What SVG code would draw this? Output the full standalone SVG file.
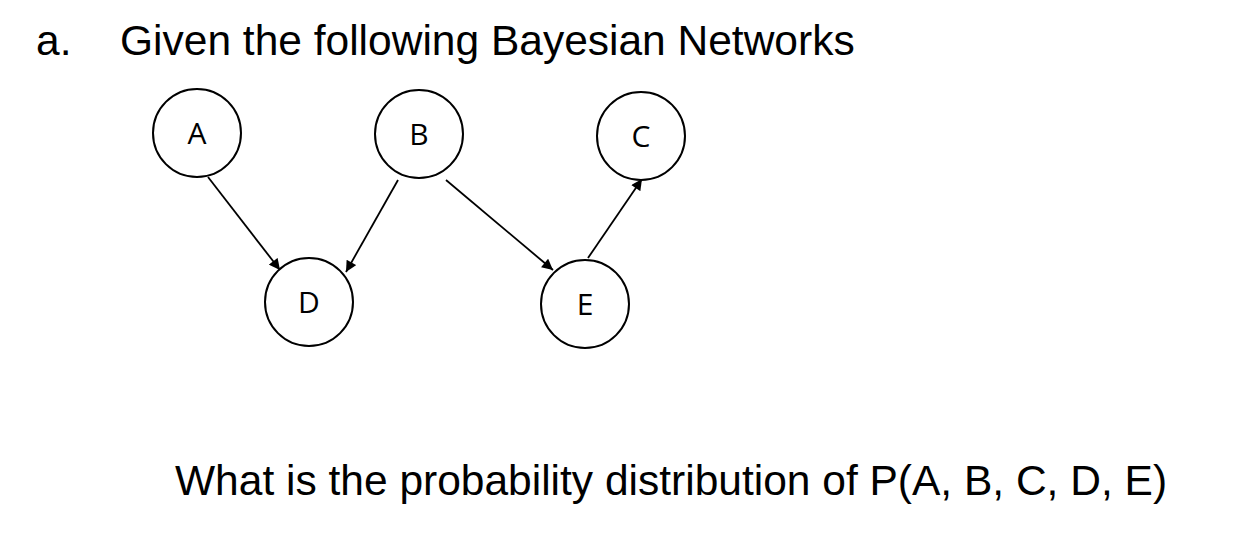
<svg xmlns="http://www.w3.org/2000/svg" width="1254" height="548" viewBox="0 0 1254 548">
<style>
.t{font-family:"Liberation Sans",Arial,sans-serif;font-size:42.5px;fill:#000}
.n circle{fill:#fff;stroke:#000;stroke-width:2}
.n text{font-family:"Open Sans","Liberation Sans",sans-serif;font-size:30px;text-anchor:middle;fill:#000}
.e line{stroke:#000;stroke-width:1.8;marker-end:url(#ah)}
</style>
<defs><marker id="ah" viewBox="0 0 10 10" refX="10" refY="5" markerWidth="12" markerHeight="11" markerUnits="userSpaceOnUse" orient="auto"><path d="M0,0L10,5L0,10z" fill="#000"/></marker></defs>
<rect width="1254" height="548" fill="#fff"/>
<text class="t" x="36" y="55">a.</text>
<text class="t" x="120" y="55">Given the following Bayesian Networks</text>
<text class="t" x="175" y="495">What is the probability distribution of P(A, B, C, D, E)</text>
<g class="e">
<line x1="208" y1="177" x2="280" y2="270"/>
<line x1="398" y1="180" x2="346" y2="272"/>
<line x1="446" y1="180" x2="553" y2="270"/>
<line x1="588" y1="258" x2="642" y2="179"/>
</g>
<g class="n" id="A"><circle cx="197" cy="133" r="44"/><text x="197" y="144">A</text></g>
<g class="n" id="B"><circle cx="419" cy="134" r="44"/><text x="419" y="145">B</text></g>
<g class="n" id="C"><circle cx="641" cy="136" r="44"/><text x="641" y="147">C</text></g>
<g class="n" id="D"><circle cx="309" cy="302" r="44"/><text x="309" y="313">D</text></g>
<g class="n" id="E"><circle cx="585" cy="304" r="44"/><text x="585" y="315">E</text></g>
</svg>
